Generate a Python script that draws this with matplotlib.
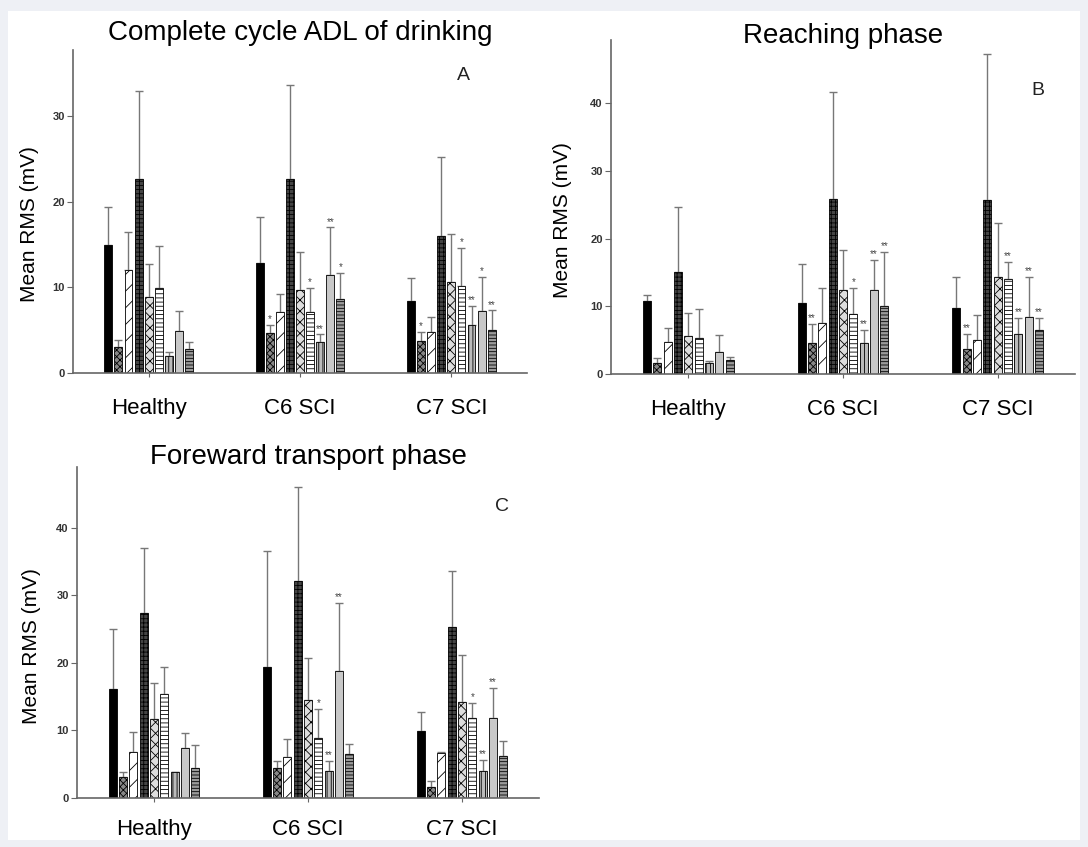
import numpy as np
import matplotlib.pyplot as plt
from matplotlib.patches import Rectangle

plt.rcParams['font.family'] = ['Liberation Sans', 'DejaVu Sans']
plt.rcParams['hatch.linewidth'] = 0.6

groups = ['Healthy', 'C6 SCI', 'C7 SCI']

# panel A: complete cycle
a_mean = [[14.9, 3.0, 12.0, 22.7, 8.9, 9.9, 2.0, 4.9, 2.8],
          [12.8, 4.7, 7.1, 22.7, 9.7, 7.1, 3.6, 11.4, 8.6],
          [8.4, 3.7, 4.8, 16.0, 10.6, 10.2, 5.6, 7.2, 5.0]]
a_err = [[19.4, 3.8, 16.4, 32.9, 12.7, 14.8, 2.5, 7.2, 3.6],
         [18.2, 5.6, 9.2, 33.6, 14.1, 9.9, 4.5, 17.0, 11.7],
         [11.1, 4.8, 6.5, 25.2, 16.2, 14.6, 7.8, 11.2, 7.3]]
a_sig = [['', '', '', '', '', '', '', '', ''],
         ['', '*', '', '', '', '*', '**', '**', '*'],
         ['', '*', '', '', '', '*', '**', '*', '**']]

# panel B: reaching phase
b_mean = [[10.8, 1.6, 4.7, 15.1, 5.6, 5.3, 1.6, 3.3, 2.1],
          [10.5, 4.6, 7.5, 25.8, 12.4, 8.9, 4.6, 12.4, 10.0],
          [9.7, 3.7, 5.0, 25.7, 14.3, 14.0, 5.9, 8.4, 6.5]]
b_err = [[11.7, 2.4, 6.8, 24.7, 9.0, 9.6, 1.9, 5.8, 2.5],
         [16.2, 7.4, 12.7, 41.6, 18.3, 12.7, 6.5, 16.8, 18.0],
         [14.3, 5.9, 8.7, 47.3, 22.3, 16.5, 8.3, 14.3, 8.3]]
b_sig = [['', '', '', '', '', '', '', '', ''],
         ['', '**', '', '', '', '*', '**', '**', '**'],
         ['', '**', '', '', '', '**', '**', '**', '**']]

# panel C: forward transport phase
c_mean = [[16.1, 3.1, 6.8, 27.4, 11.7, 15.4, 3.9, 7.4, 4.4],
          [19.4, 4.4, 6.1, 32.1, 14.5, 8.9, 4.0, 18.8, 6.5],
          [9.9, 1.6, 6.6, 25.3, 14.2, 11.8, 4.0, 11.8, 6.2]]
c_err = [[25.0, 3.9, 9.7, 37.0, 17.0, 19.4, 3.9, 9.6, 7.8],
         [36.6, 5.5, 8.7, 46.1, 20.7, 13.2, 5.5, 28.9, 8.0],
         [12.7, 2.5, 6.8, 33.6, 21.2, 14.1, 5.6, 16.3, 8.4]]
c_sig = [['', '', '', '', '', '', '', '', ''],
         ['', '', '', '', '', '*', '**', '**', ''],
         ['', '', '', '', '', '*', '**', '**', '']]

# bar styles (face, hatch) for the 9 muscles
faces = ['black', '#888888', 'white', '#444444', '#dddddd', 'white', '#bbbbbb', '#c8c8c8', '#9a9a9a']
hatches = [None, 'xxxxx', '//', '++++', 'xxx', '----', '||||', None, '-----']


def draw_panel(ax, means, errs, sigs, ymax, yticks, title, title_y, letter, lpos,
               ylab_x, xpad):
    n = len(faces)
    for g in range(len(groups)):
        for i in range(n):
            x = g * 15 + (i - (n - 1) / 2)
            m = means[g][i]
            e = errs[g][i] - m
            ax.bar(x, m, width=0.78, color=faces[i], hatch=hatches[i],
                   edgecolor='black', linewidth=0.6, zorder=2)
            ax.errorbar(x, m, yerr=[[0], [e]], fmt='none', ecolor='#777777',
                        elinewidth=1.0, capsize=3, capthick=1.0, zorder=1)
            if sigs[g][i]:
                ax.text(x, errs[g][i] + ymax * 0.002, sigs[g][i], ha='center', va='bottom',
                        fontsize=7, color='#444444')
    ax.set_xlim(-7.5, 37.5)
    ax.set_ylim(0, ymax)
    ax.set_xticks([0, 15, 30])
    ax.set_xticklabels(groups, fontsize=16)
    ax.set_yticks(yticks)
    ax.set_yticklabels([str(t) for t in yticks], fontsize=8, fontweight='bold', color='#333333')
    ax.set_ylabel('Mean RMS (mV)', fontsize=15)
    ax.yaxis.set_label_coords(ylab_x, 0.46)
    ax.text(0.5, title_y, title, transform=ax.transAxes, fontsize=20,
            ha='center', va='center')
    for s in ['top', 'right']:
        ax.spines[s].set_visible(False)
    for s in ['left', 'bottom']:
        ax.spines[s].set_color('#666666')
        ax.spines[s].set_linewidth(1.2)
    ax.tick_params(axis='y', length=4, color='#666666', pad=2)
    ax.tick_params(axis='x', length=3, color='#666666', pad=xpad)
    ax.set_facecolor('none')
    ax.text(lpos[0], lpos[1], letter, transform=ax.transAxes, fontsize=14,
            fontweight='light', color='#222222', ha='center', va='center')


fig = plt.figure(figsize=(10.88, 8.47), dpi=100)
fig.patch.set_facecolor('#eef0f5')
fig.patches.append(Rectangle((8 / 1088, 7 / 847), 1072 / 1088, 829 / 847,
                             transform=fig.transFigure, facecolor='white',
                             edgecolor='none', zorder=-10))

ax_a = fig.add_axes([0.0671, 0.5596, 0.4173, 0.3814])
ax_b = fig.add_axes([0.5616, 0.5584, 0.4264, 0.3944])
ax_c = fig.add_axes([0.0708, 0.0579, 0.4246, 0.3907])

# title_y / letter positions in axes fractions
draw_panel(ax_a, a_mean, a_err, a_sig, 37.7, [0, 10, 20, 30],
           'Complete cycle ADL of drinking', 1.052, 'A', (0.86, 0.92), -0.075, 15)
draw_panel(ax_b, b_mean, b_err, b_sig, 49.3, [0, 10, 20, 30, 40],
           'Reaching phase', 1.012, 'B', (0.92, 0.85), -0.084, 15)
draw_panel(ax_c, c_mean, c_err, c_sig, 49.0, [0, 10, 20, 30, 40],
           'Foreward transport phase', 1.03, 'C', (0.92, 0.88), -0.078, 12)

fig.savefig('out.png', dpi=100, facecolor=fig.get_facecolor())
